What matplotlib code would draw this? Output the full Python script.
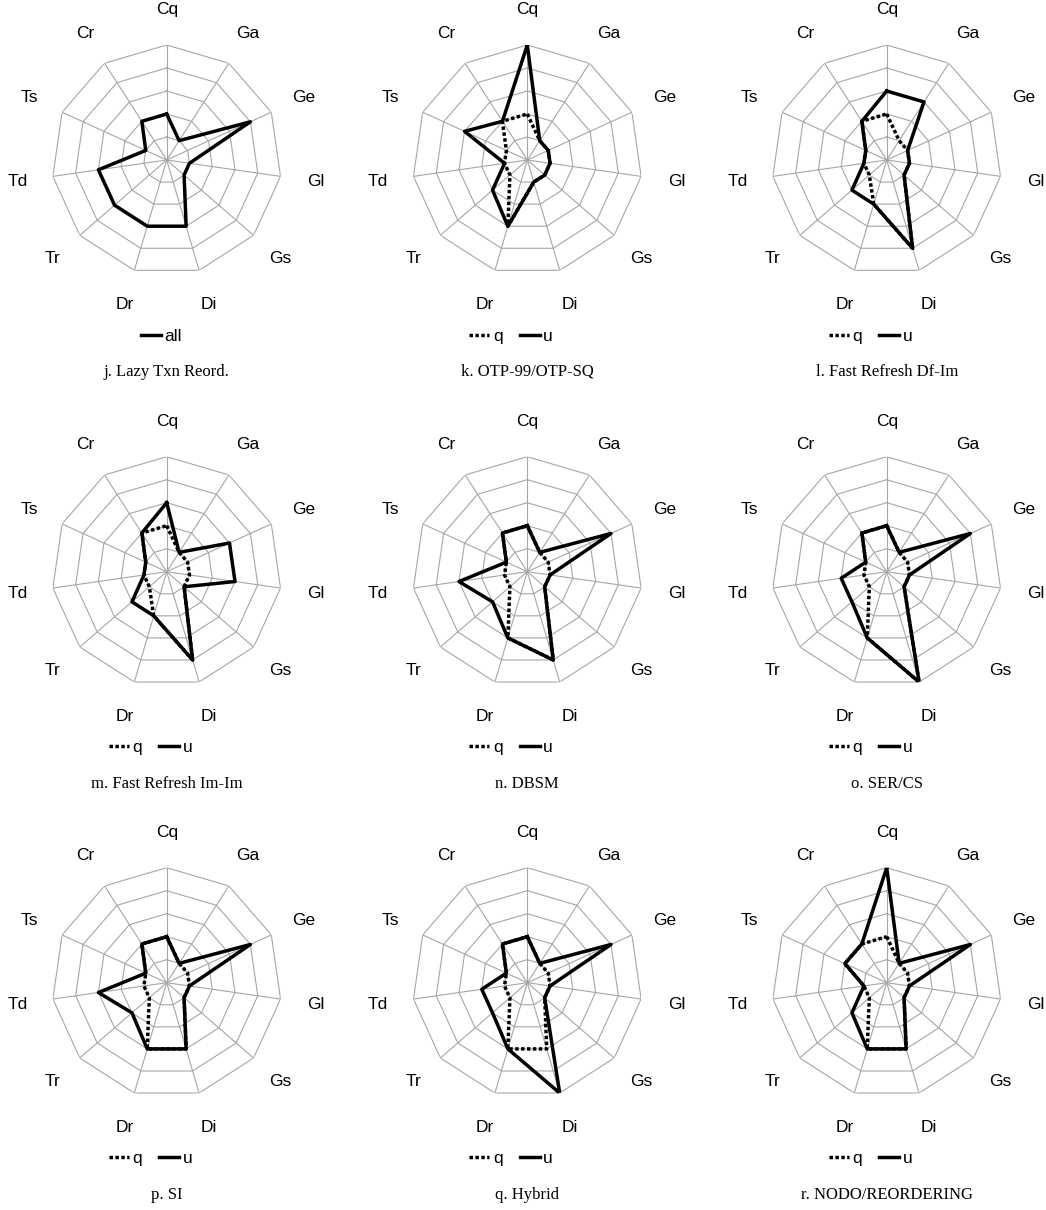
import numpy as np
import matplotlib
matplotlib.use("Agg")
import matplotlib.pyplot as plt

# axis labels, clockwise from the top
axes_labels = ["Cq", "Ga", "Ge", "Gl", "Gs", "Di", "Dr", "Tr", "Td", "Ts", "Cr"]

captions = ["j. Lazy Txn Reord.", "k. OTP-99/OTP-SQ", "l. Fast Refresh Df-Im",
            "m. Fast Refresh Im-Im", "n. DBSM", "o. SER/CS",
            "p. SI", "q. Hybrid", "r. NODO/REORDERING"]

# j has a single series "all"
j_all = [2, 1, 4, 1, 1, 3, 3, 3, 3, 1, 2]

q_vals = [
    None,
    [2, 1, 1, 1, 1, 1, 3, 1, 1, 1, 2],
    [2, 1, 1, 1, 1, 4, 2, 1, 1, 1, 2],
    [2, 1, 1, 1, 1, 4, 2, 1, 1, 1, 2],
    [2, 1, 1, 1, 1, 4, 3, 1, 1, 1, 2],
    [2, 1, 1, 1, 1, 5, 3, 1, 1, 1, 2],
    [2, 1, 1, 1, 1, 3, 3, 1, 1, 1, 2],
    [2, 1, 1, 1, 1, 3, 3, 1, 1, 1, 2],
    [2, 1, 1, 1, 1, 3, 3, 1, 1, 2, 2],
]
u_vals = [
    None,
    [5, 1, 1, 1, 1, 1, 3, 2, 1, 3, 2],
    [3, 3, 1, 1, 1, 4, 2, 2, 1, 1, 2],
    [3, 1, 3, 3, 1, 4, 2, 2, 1, 1, 2],
    [2, 1, 4, 1, 1, 4, 3, 2, 3, 1, 2],
    [2, 1, 4, 1, 1, 5, 3, 2, 2, 1, 2],
    [2, 1, 4, 1, 1, 3, 3, 2, 3, 1, 2],
    [2, 1, 4, 1, 1, 5, 3, 2, 2, 1, 2],
    [5, 1, 4, 1, 1, 3, 3, 2, 1, 2, 2],
]
rings = [1, 2, 3, 4, 5]

W, H = 1046, 1210
fig = plt.figure(figsize=(W / 100, H / 100), dpi=100)

col_x = [166.7, 527.3, 886.7]
row_y = [160, 571.7, 982.7]
R = 115  # outer ring radius in pixels

n = len(axes_labels)
theta = np.linspace(0, 2 * np.pi, n, endpoint=False)
theta_c = np.append(theta, theta[0])

grid_col = "#a6a6a6"
sans = ["Liberation Sans", "DejaVu Sans"]
serif = ["Liberation Serif", "DejaVu Serif"]

for i in range(9):
    cx, cy = col_x[i % 3], row_y[i // 3]
    ax = fig.add_axes([(cx - R) / W, 1 - (cy + R) / H, 2 * R / W, 2 * R / H],
                      projection="polar")
    ax.set_theta_offset(np.pi / 2)
    ax.set_theta_direction(-1)
    ax.set_ylim(0, rings[-1])
    ax.grid(False)
    ax.set_xticks([])
    ax.set_yticks([])
    ax.spines["polar"].set_visible(False)

    # polygon web
    for r in rings:
        ax.plot(theta_c, [r] * (n + 1), color=grid_col, lw=0.8, zorder=1)
    for t in theta:
        ax.plot([t, t], [0, rings[-1]], color=grid_col, lw=0.8, zorder=1)

    for t, lab in zip(theta, axes_labels):
        ax.text(t, 6.55, lab, ha="center", va="center", fontsize=12.5,
                family=sans)

    if i == 0:
        ax.plot(theta_c, j_all + j_all[:1], color="black", lw=2.5,
                label="all", zorder=3)
        lx = 0.478
    else:
        q = q_vals[i]
        u = u_vals[i]
        ax.plot(theta_c, q + q[:1], color="black", lw=2.5,
                linestyle=(0, (1, 0.7)), label="q", zorder=2)
        ax.plot(theta_c, u + u[:1], color="black", lw=2.5, label="u",
                zorder=3)
        lx = 0.43

    leg = ax.legend(loc="center", bbox_to_anchor=(lx, 0.5 - 176 / 230),
                    ncol=2, frameon=False, handlelength=1.15,
                    handletextpad=0.2, columnspacing=1.0,
                    prop={"family": sans, "size": 12.5})

    ax.text(0.5, 0.5 - 212 / 230, captions[i], transform=ax.transAxes,
            ha="center", va="center", fontsize=12, family=serif)

plt.savefig("out.png", dpi=100)
